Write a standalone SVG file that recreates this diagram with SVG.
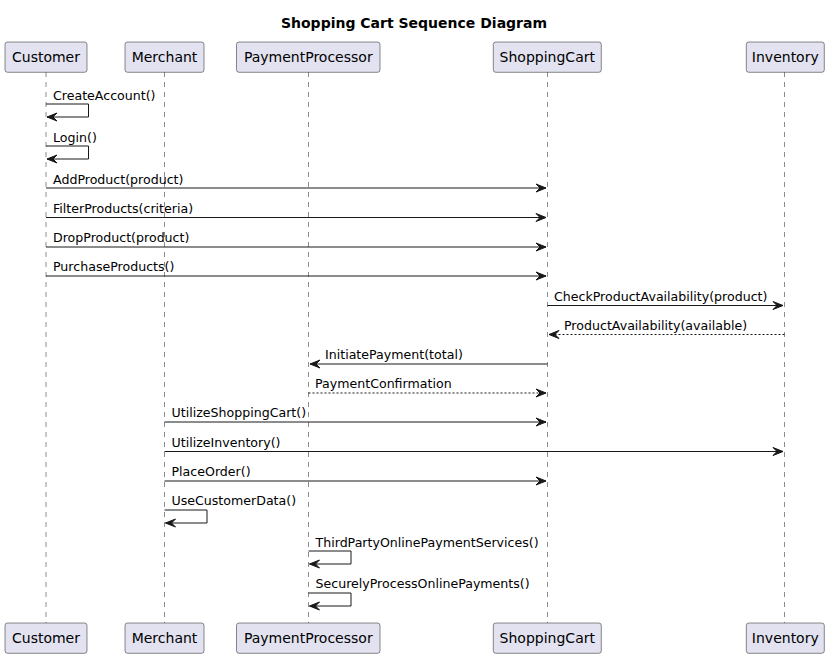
<svg xmlns="http://www.w3.org/2000/svg" width="828" height="659" viewBox="0 0 828 659">
<style>
text{font-family:"DejaVu Sans","Noto Sans",sans-serif;fill:#000}
.title{font-size:14px;font-weight:bold}
.pn{font-size:14px}
.msg{font-size:12.6px}
.box{fill:#E2E2F0;stroke:#181818;stroke-width:0.5}
.life{stroke:#181818;stroke-width:0.5;stroke-dasharray:5,5;fill:none}
.ln{stroke:#181818;stroke-width:1;fill:none}
.dash{stroke:#181818;stroke-width:1;fill:none;stroke-dasharray:2,2}
.ah{fill:#181818;stroke:#181818;stroke-width:1}
</style>
<rect width="828" height="659" fill="#FFFFFF"/>
<text class="title" x="414" y="28" text-anchor="middle">Shopping Cart Sequence Diagram</text>
<g id="lifelines">
<line class="life" x1="46" y1="72" x2="46" y2="623"/>
<line class="life" x1="164.5" y1="72" x2="164.5" y2="623"/>
<line class="life" x1="308.5" y1="72" x2="308.5" y2="623"/>
<line class="life" x1="547.5" y1="72" x2="547.5" y2="623"/>
<line class="life" x1="784.5" y1="72" x2="784.5" y2="623"/>
</g>
<g id="Customer">
<rect class="box" x="5" y="42" width="82" height="30.3" rx="2.5"/>
<text class="pn" x="46" y="62" text-anchor="middle">Customer</text>
<rect class="box" x="5" y="623" width="82" height="30.3" rx="2.5"/>
<text class="pn" x="46" y="643" text-anchor="middle">Customer</text>
</g>
<g id="Merchant">
<rect class="box" x="125" y="42" width="79" height="30.3" rx="2.5"/>
<text class="pn" x="164.5" y="62" text-anchor="middle">Merchant</text>
<rect class="box" x="125" y="623" width="79" height="30.3" rx="2.5"/>
<text class="pn" x="164.5" y="643" text-anchor="middle">Merchant</text>
</g>
<g id="PaymentProcessor">
<rect class="box" x="236.5" y="42" width="143.5" height="30.3" rx="2.5"/>
<text class="pn" x="308.3" y="62" text-anchor="middle">PaymentProcessor</text>
<rect class="box" x="236.5" y="623" width="143.5" height="30.3" rx="2.5"/>
<text class="pn" x="308.3" y="643" text-anchor="middle">PaymentProcessor</text>
</g>
<g id="ShoppingCart">
<rect class="box" x="493.3" y="42" width="108" height="30.3" rx="2.5"/>
<text class="pn" x="547.3" y="62" text-anchor="middle">ShoppingCart</text>
<rect class="box" x="493.3" y="623" width="108" height="30.3" rx="2.5"/>
<text class="pn" x="547.3" y="643" text-anchor="middle">ShoppingCart</text>
</g>
<g id="Inventory">
<rect class="box" x="746.3" y="42" width="78" height="30.3" rx="2.5"/>
<text class="pn" x="785.3" y="62" text-anchor="middle">Inventory</text>
<rect class="box" x="746.3" y="623" width="78" height="30.3" rx="2.5"/>
<text class="pn" x="785.3" y="643" text-anchor="middle">Inventory</text>
</g>
<g id="connectors">
<polyline class="ln" points="46,104 88.5,104 88.5,117 47,117"/>
<polygon class="ah" points="57,113 47,117 57,121 53,117"/>
<text class="msg" x="53" y="100">CreateAccount()</text>
<polyline class="ln" points="46,146 88.5,146 88.5,159 47,159"/>
<polygon class="ah" points="57,155 47,159 57,163 53,159"/>
<text class="msg" x="53" y="142">Login()</text>
<line class="ln" x1="46" y1="188" x2="546" y2="188"/>
<polygon class="ah" points="536,184 546,188 536,192 540,188"/>
<text class="msg" x="53" y="184">AddProduct(product)</text>
<line class="ln" x1="46" y1="217.5" x2="546" y2="217.5"/>
<polygon class="ah" points="536,213.5 546,217.5 536,221.5 540,217.5"/>
<text class="msg" x="53" y="213">FilterProducts(criteria)</text>
<line class="ln" x1="46" y1="247" x2="546" y2="247"/>
<polygon class="ah" points="536,243 546,247 536,251 540,247"/>
<text class="msg" x="53" y="242">DropProduct(product)</text>
<line class="ln" x1="46" y1="276" x2="546" y2="276"/>
<polygon class="ah" points="536,272 546,276 536,280 540,276"/>
<text class="msg" x="53" y="271">PurchaseProducts()</text>
<line class="ln" x1="547.5" y1="305.5" x2="783" y2="305.5"/>
<polygon class="ah" points="773,301.5 783,305.5 773,309.5 777,305.5"/>
<text class="msg" x="554" y="300.5">CheckProductAvailability(product)</text>
<line class="dash" x1="784.5" y1="334.5" x2="549" y2="334.5"/>
<polygon class="ah" points="559,330.5 549,334.5 559,338.5 555,334.5"/>
<text class="msg" x="564" y="330">ProductAvailability(available)</text>
<line class="ln" x1="547.5" y1="364" x2="310" y2="364"/>
<polygon class="ah" points="320,360 310,364 320,368 316,364"/>
<text class="msg" x="325" y="359">InitiatePayment(total)</text>
<line class="dash" x1="308.5" y1="393" x2="546" y2="393"/>
<polygon class="ah" points="536,389 546,393 536,397 540,393"/>
<text class="msg" x="315" y="388">PaymentConfirmation</text>
<line class="ln" x1="164.5" y1="422" x2="546" y2="422"/>
<polygon class="ah" points="536,418 546,422 536,426 540,422"/>
<text class="msg" x="171.5" y="417">UtilizeShoppingCart()</text>
<line class="ln" x1="164.5" y1="451.5" x2="783" y2="451.5"/>
<polygon class="ah" points="773,447.5 783,451.5 773,455.5 777,451.5"/>
<text class="msg" x="171.5" y="446.5">UtilizeInventory()</text>
<line class="ln" x1="164.5" y1="481" x2="546" y2="481"/>
<polygon class="ah" points="536,477 546,481 536,485 540,481"/>
<text class="msg" x="171.5" y="476">PlaceOrder()</text>
<polyline class="ln" points="164.5,510 207,510 207,523 165.5,523"/>
<polygon class="ah" points="175.5,519 165.5,523 175.5,527 171.5,523"/>
<text class="msg" x="171.5" y="505">UseCustomerData()</text>
<polyline class="ln" points="308.5,551 351,551 351,564 309.5,564"/>
<polygon class="ah" points="319.5,560 309.5,564 319.5,568 315.5,564"/>
<text class="msg" x="315.5" y="547">ThirdPartyOnlinePaymentServices()</text>
<polyline class="ln" points="308.5,593 351,593 351,606 309.5,606"/>
<polygon class="ah" points="319.5,602 309.5,606 319.5,610 315.5,606"/>
<text class="msg" x="315.5" y="588">SecurelyProcessOnlinePayments()</text>
</g>
</svg>
